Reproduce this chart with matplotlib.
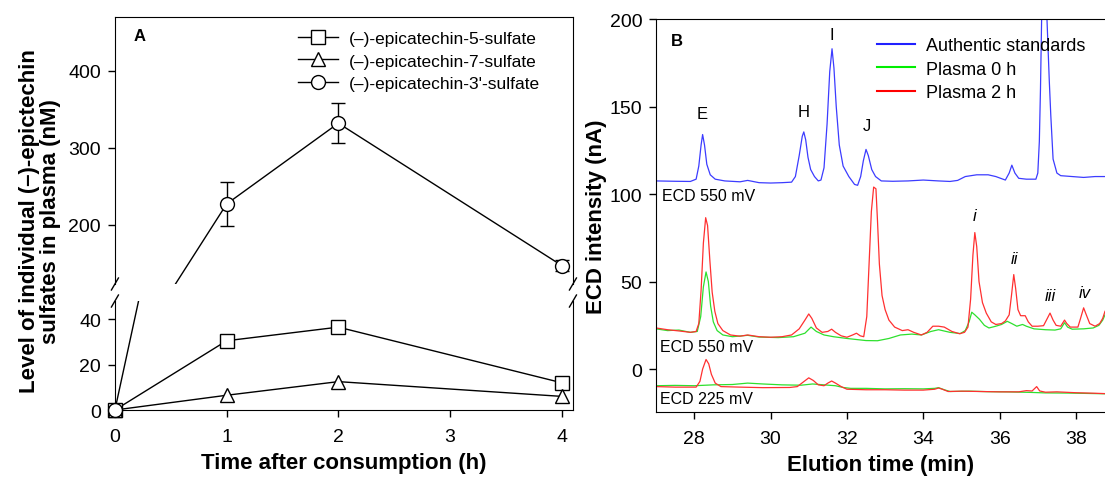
import numpy as np
import matplotlib
matplotlib.use("Agg")
import matplotlib.pyplot as plt
from matplotlib.lines import Line2D

plt.rcParams['font.family'] = ['Liberation Sans', 'DejaVu Sans']

# ---- panel A data ----
hours = [0, 1, 2, 4]
sulf3 = [0, 227, 332, 147]
sulf3_err = [0, 28, 26, 7]
sulf5 = [0, 30.5, 36.5, 12]
sulf7 = [0, 6.5, 12.5, 6]
labels_a = ['(\u2013)-epicatechin-5-sulfate', '(\u2013)-epicatechin-7-sulfate',
            "(\u2013)-epicatechin-3'-sulfate"]

# ---- panel B data (traced chromatograms) ----
std_t = [27.0, 27.5, 27.9, 28.05, 28.12, 28.18, 28.22, 28.27, 28.33, 28.42, 28.55, 28.8,
         29.2, 29.4, 29.7, 30.0, 30.3, 30.55, 30.65, 30.75, 30.83, 30.87, 30.92, 30.98,
         31.05, 31.15, 31.25, 31.32, 31.4, 31.48, 31.55, 31.61, 31.66, 31.72, 31.8, 31.9,
         32.05, 32.2, 32.28, 32.36, 32.43, 32.5, 32.56, 32.65, 32.75, 32.9, 33.2, 33.6,
         34.0, 34.4, 34.7, 34.9, 35.1, 35.4, 35.7, 35.9, 36.15, 36.25, 36.32, 36.4, 36.5,
         36.7, 36.95, 37.0, 37.04, 37.07, 37.1, 37.17, 37.24, 37.3, 37.34, 37.4, 37.5,
         37.6, 37.9, 38.2, 38.5, 38.76]
std_v = [107.5, 107.3, 107.2, 108.5, 116, 128, 134, 128, 117, 111, 108.5, 107.5,
         107, 107.8, 106.5, 106.3, 106.5, 106.8, 110, 122, 133, 135.5, 131, 121,
         114, 110, 107.5, 108, 115, 140, 170, 183, 172, 150, 128, 116,
         110, 105.5, 105, 110, 119, 125.5, 122, 114, 110, 107.5, 107.3, 107.5,
         108, 107.5, 107.2, 107.8, 110, 111, 111, 110, 108, 112, 116.5, 112, 109,
         108.5, 108.5, 112, 130, 160, 200, 240, 200, 165, 145, 120, 112,
         110.5, 110, 109.5, 110, 110]

p2_t = [27.0, 27.3, 27.6, 27.9, 28.05, 28.12, 28.18, 28.24, 28.3, 28.35, 28.41, 28.47,
        28.54, 28.62, 28.75, 28.95, 29.2, 29.4, 29.7, 30.0, 30.3, 30.55, 30.75, 30.9,
        31.0, 31.08, 31.2, 31.35, 31.5, 31.6, 31.7, 31.85, 32.0, 32.15, 32.25, 32.35,
        32.44, 32.52, 32.58, 32.64, 32.7, 32.76, 32.8, 32.85, 32.92, 33.0, 33.1, 33.25,
        33.45, 33.6, 33.75, 33.95, 34.1, 34.25, 34.4, 34.55, 34.75, 34.95, 35.08, 35.17,
        35.24, 35.3, 35.35, 35.4, 35.46, 35.55, 35.65, 35.78, 35.9, 36.05, 36.15, 36.25,
        36.31, 36.37, 36.42, 36.48, 36.55, 36.67, 36.75, 36.85, 37.0, 37.15, 37.25, 37.32,
        37.4, 37.48, 37.6, 37.7, 37.76, 37.85, 38.05, 38.12, 38.2, 38.27, 38.36, 38.5,
        38.62, 38.7, 38.76]
p2_v = [23.5, 22.5, 21.8, 21, 21.5, 26, 45, 72, 86.5, 82, 62, 44,
        33, 26, 22, 19.5, 18.8, 19.5, 18.5, 18.2, 18.5, 19.5, 23, 28,
        31.5, 29, 23.5, 21, 21.5, 22.8, 21, 19, 18.2, 19.5, 20.5, 19,
        18.5, 30, 60, 90, 104, 103, 85, 60, 42, 34, 28, 24,
        22, 22.5, 21, 19.5, 21, 24.5, 24.5, 24, 21.5, 20.2, 21, 24,
        40, 65, 78, 70, 50, 38, 32, 27, 25.5, 26, 27.5, 31,
        42, 54, 46, 34, 30.5, 30.5, 27, 24.5, 24.5, 24.8, 29, 32,
        28, 25, 24.5, 28, 26, 24, 24, 29, 35, 31, 26, 24.5,
        26, 29, 33]

p0_t = [27.0, 27.3, 27.6, 27.9, 28.08, 28.17, 28.24, 28.31, 28.37, 28.43, 28.5, 28.6,
        28.75, 29.0, 29.4, 29.7, 30.2, 30.6, 30.9, 31.06, 31.2, 31.4, 31.65, 32.0,
        32.5, 32.8, 33.1, 33.4, 33.7, 33.95, 34.2, 34.4, 34.7, 34.97, 35.1, 35.2,
        35.27, 35.35, 35.47, 35.6, 35.72, 35.9, 36.05, 36.2, 36.32, 36.45, 36.6, 36.7,
        36.9, 37.2, 37.45, 37.6, 37.7, 37.78, 37.9, 38.2, 38.45, 38.6, 38.7, 38.76]
p0_v = [23, 22, 22.3, 21, 21.5, 30, 47, 55.5, 50, 36, 27, 22,
        19.5, 18.5, 19.3, 18.3, 18, 18.5, 20.5, 24, 21.5, 19.5, 18.5, 17.5,
        16.3, 16.2, 17.5, 19.5, 20, 19.5, 21.5, 22.5, 21, 20.3, 22, 27,
        32.5, 31, 28.5, 25, 23.5, 24.5, 25.5, 27.3, 26, 24.5, 25.5, 24.5,
        23, 22.5, 22.3, 23, 26.5, 24, 22.8, 23, 23.5, 25, 28, 31]

p2lo_t = [27.0, 27.5, 28.05, 28.15, 28.22, 28.31, 28.38, 28.45, 28.55, 28.7, 29.2, 29.8,
          30.5, 30.7, 30.85, 31.0, 31.12, 31.25, 31.4, 31.5, 31.6, 31.7, 31.85, 32.0,
          32.5, 33.0, 33.5, 34.0, 34.3, 34.4, 34.5, 34.65, 35.0, 35.5, 36.0, 36.5,
          36.7, 36.85, 36.97, 37.05, 37.2, 37.5, 38.0, 38.5, 38.76]
p2lo_v = [-10, -10.3, -10.3, -7, 0, 5.5, 3, -3, -8, -10, -10.3, -10.6,
          -10.5, -10, -7.5, -5, -6.5, -9, -9.5, -8, -6.8, -8, -10, -11.5,
          -11.8, -11.8, -12, -12, -11.5, -10.8, -11.5, -12.8, -12.6, -12.8, -13, -13,
          -12.3, -12.5, -10, -12.5, -13.2, -13, -13.5, -13.8, -14]

p0lo_t = [27.0, 27.5, 28.0, 28.5, 29.0, 29.4, 29.8, 30.3, 30.8, 31.1, 31.4, 31.7,
          31.9, 32.1, 32.5, 33.0, 33.5, 34.0, 34.3, 34.4, 34.55, 34.7, 35.2, 35.7,
          36.2, 36.8, 37.2, 37.8, 38.3, 38.76]
p0lo_v = [-9.5, -9.3, -9.5, -9, -8.8, -8, -8.5, -9, -9.2, -8.5, -9, -9.5,
          -10.5, -11, -11, -11.3, -11.2, -11.3, -11, -10.6, -11.8, -12.8, -12.6, -12.9,
          -13, -13.3, -13.6, -13.7, -13.9, -14.1]

fig = plt.figure(figsize=(11.05, 4.81), dpi=100)

# ---------------- panel A (broken axis) ----------------
ax_up = fig.add_axes([0.104, 0.4075, 0.4145, 0.555])
ax_lo = fig.add_axes([0.104, 0.1455, 0.4145, 0.2266])

mk = dict(markerfacecolor='white', markeredgecolor='black', markersize=10,
          markeredgewidth=1.0, color='black', linewidth=1.0)

ax_lo.plot(hours, sulf3, color='black', linewidth=1.0)
ax_lo.plot(hours, sulf5, marker='s', clip_on=False, zorder=3, **mk)
ax_lo.plot(hours, sulf7, marker='^', clip_on=False, zorder=3, **mk)
ax_lo.plot(hours[:1], sulf3[:1], marker='o', linestyle='none', clip_on=False, zorder=4, **mk)

ax_up.errorbar(hours[1:], sulf3[1:], yerr=sulf3_err[1:], fmt='none', ecolor='black',
               elinewidth=1.0, capsize=5, capthick=1.0, zorder=2)
ax_up.plot(hours, sulf3, marker='o', zorder=3, **mk)

for ax in (ax_up, ax_lo):
    ax.set_xlim(0, 4.1)
    ax.tick_params(direction='out', length=5, width=1, labelsize=14, pad=5)
ax_up.set_ylim(123, 470)
ax_lo.set_ylim(0, 48)
ax_up.set_yticks([200, 300, 400])
ax_lo.set_yticks([0, 20, 40])
ax_lo.set_xticks([0, 1, 2, 3, 4])
ax_lo.tick_params(axis='x', pad=8)
ax_up.set_xticks([])
ax_up.spines['bottom'].set_visible(False)
ax_lo.spines['top'].set_visible(False)

# break marks
dx, dy_u, dy_l = 3.5 / 458, 6 / 267, 6 / 109
for xx in (0, 1):
    ax_up.plot([xx - dx, xx + dx], [-dy_u, dy_u], transform=ax_up.transAxes,
               color='black', lw=1, clip_on=False)
    ax_lo.plot([xx - dx, xx + dx], [1 - dy_l, 1 + dy_l], transform=ax_lo.transAxes,
               color='black', lw=1, clip_on=False)

ax_lo.set_xlabel('Time after consumption (h)', fontsize=16, fontweight='bold', labelpad=5)
fig.text(0.036, 0.54, 'Level of individual (\u2013)-epictechin\nsulfates in plasma (nM)',
         rotation=90, ha='center', va='center', fontsize=16, fontweight='bold',
         multialignment='center', linespacing=1.0)
ax_up.text(0.04, 0.93, 'A', transform=ax_up.transAxes, fontsize=12, fontweight='bold',
           va='center', ha='left')

handles = [Line2D([], [], marker=m, **mk) for m in ('s', '^', 'o')]
ax_up.legend(handles, labels_a, loc='upper left', bbox_to_anchor=(0.37, 1.0),
             frameon=False, fontsize=12.5, handlelength=2.3, handletextpad=0.6,
             labelspacing=0.42, borderpad=0.3)

# ---------------- panel B ----------------
axb = fig.add_axes([0.5937, 0.1414, 0.4063, 0.817])
c_blue, c_green, c_red = '#3c3cff', '#2ee02e', '#ff3030'
axb.plot(std_t, std_v, color=c_blue, lw=0.9)
axb.plot(p0_t, p0_v, color=c_green, lw=0.9)
axb.plot(p0lo_t, p0lo_v, color=c_green, lw=0.9)
axb.plot(p2_t, p2_v, color=c_red, lw=0.9)
axb.plot(p2lo_t, p2lo_v, color=c_red, lw=0.9)

axb.set_xlim(27, 38.76)
axb.set_ylim(-24.5, 200)
axb.set_xticks([28, 30, 32, 34, 36, 38])
axb.set_yticks([0, 50, 100, 150, 200])
axb.tick_params(direction='out', length=5, width=1, labelsize=14, pad=5)
axb.tick_params(axis='x', pad=8)
axb.spines['right'].set_visible(False)
axb.set_xlabel('Elution time (min)', fontsize=16, fontweight='bold', labelpad=5)
axb.set_ylabel('ECD intensity (nA)', fontsize=16, fontweight='bold', labelpad=2)

axb.text(27.4, 188, 'B', fontsize=12, fontweight='bold', va='center')
for lab, tx, ty in [('E', 28.22, 146), ('H', 30.87, 147), ('I', 31.6, 191), ('J', 32.52, 139)]:
    axb.text(tx, ty, lab, fontsize=12, ha='center', va='center')
for lab, tx, ty in [('i', 35.35, 88), ('ii', 36.4, 63), ('iii', 37.32, 42), ('iv', 38.22, 44)]:
    axb.text(tx, ty, lab, fontsize=12, style='italic', ha='center', va='center')
axb.text(27.15, 99, 'ECD 550 mV', fontsize=11.5, va='center')
axb.text(27.1, 13, 'ECD 550 mV', fontsize=11.5, va='center')
axb.text(27.1, -17, 'ECD 225 mV', fontsize=11.5, va='center')

hb = [Line2D([], [], color=c, lw=1.5) for c in ('#2020ff', '#00ee00', '#ff0000')]
axb.legend(hb, ['Authentic standards', 'Plasma 0 h', 'Plasma 2 h'], loc='upper left',
           bbox_to_anchor=(0.7937, 0.921), bbox_transform=fig.transFigure, frameon=False,
           fontsize=13, handlelength=2.1, handletextpad=0.6, labelspacing=0.37,
           borderpad=0, borderaxespad=0)

fig.savefig('out.png', dpi=100)
